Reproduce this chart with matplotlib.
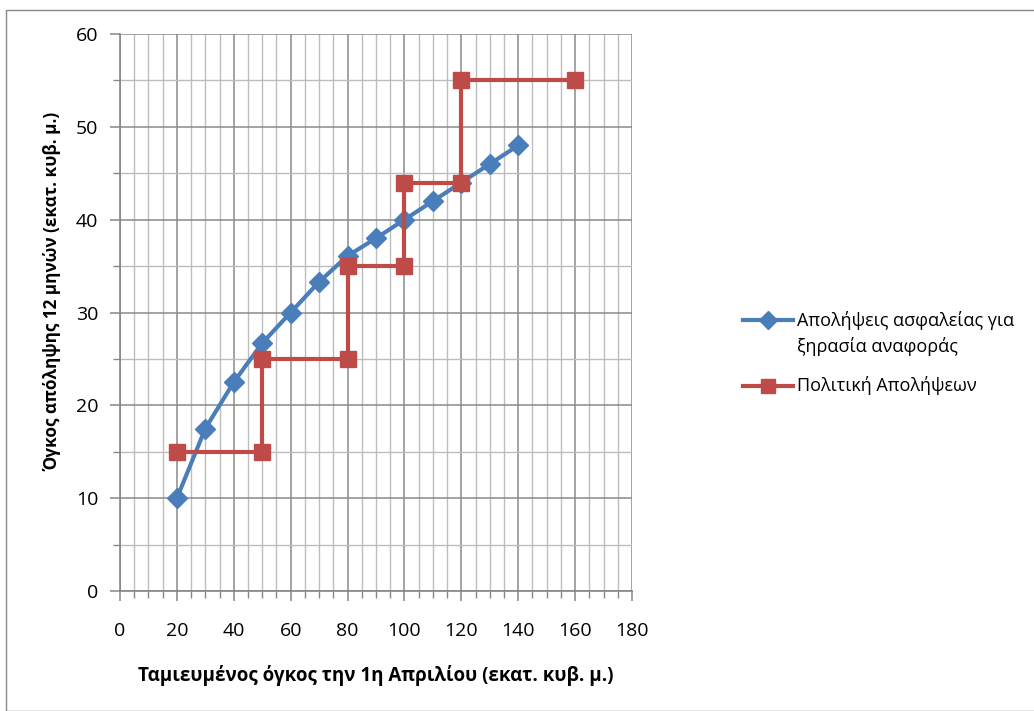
import matplotlib
matplotlib.use("Agg")
import matplotlib.pyplot as plt
from matplotlib.ticker import MultipleLocator
from matplotlib.patches import Rectangle
from matplotlib.lines import Line2D

# Data
x_safe = [20, 30, 40, 50, 60, 70, 80, 90, 100, 110, 120, 130, 140]
y_safe = [10, 17.5, 22.5, 26.7, 30, 33.3, 36.1, 38, 40, 42, 44, 46, 48]
x_policy = [20, 50, 50, 80, 80, 100, 100, 120, 120, 160]
y_policy = [15, 15, 25, 25, 35, 35, 44, 44, 55, 55]

label_safe = ["Απολήψεις ασφαλείας για", "ξηρασία αναφοράς"]
label_policy = "Πολιτική Απολήψεων"
xlabel = "Ταμιευμένος όγκος την 1η Απριλίου (εκατ. κυβ. μ.)"
ylabel = "Όγκος απόληψης 12 μηνών (εκατ. κυβ. μ.)"

BLUE = '#4a7ebb'
RED = '#be4b48'

plt.rcParams['font.family'] = ['Open Sans', 'DejaVu Sans']

W, H = 1034, 711
fig = plt.figure(figsize=(W / 100, H / 100), dpi=100)
fig.patches.append(Rectangle((6 / W, 0), 2, 1 - 10 / H, transform=fig.transFigure,
                             fill=False, edgecolor='#888888', linewidth=1.0))

ax = fig.add_axes([120 / W, 1 - 591 / H, (632 - 120) / W, (591 - 34) / H])
ax.set_xlim(0, 180)
ax.set_ylim(0, 60)
ax.xaxis.set_major_locator(MultipleLocator(20))
ax.xaxis.set_minor_locator(MultipleLocator(5))
ax.yaxis.set_major_locator(MultipleLocator(10))
ax.yaxis.set_minor_locator(MultipleLocator(5))

ax.grid(which='major', color='#8a8a8a', linewidth=1.1)
ax.grid(which='minor', color='#bdbdbd', linewidth=1.0)
ax.set_axisbelow(True)

for s in ['top', 'right']:
    ax.spines[s].set_visible(False)
for s in ['left', 'bottom']:
    ax.spines[s].set_color('#868686')
    ax.spines[s].set_linewidth(1.2)

ax.tick_params(which='major', direction='out', length=7, width=1.1, color='#868686',
               labelsize=14, labelcolor='black')
ax.tick_params(which='minor', direction='out', length=5, width=1.0, color='#868686')
ax.tick_params(axis='x', which='major', pad=15.5)
ax.tick_params(axis='y', which='major', pad=8.5)

ax.plot(x_safe, y_safe, color=BLUE, linewidth=3, marker='D', markersize=10,
        markerfacecolor=BLUE, markeredgecolor=BLUE, zorder=3)
ax.plot(x_policy, y_policy, color=RED, linewidth=3, marker='s', markersize=11.5,
        markerfacecolor=RED, markeredgecolor=RED, zorder=4)

ax.set_xlabel(xlabel, fontsize=13.5, fontweight='bold')
ax.xaxis.set_label_coords(0.5, (591 - 675) / 557)
ax.xaxis.label.set_va('center')
ax.set_ylabel(ylabel, fontsize=12.3, fontweight='bold')
ax.yaxis.set_label_coords((53 - 120) / 512, (591 - 291) / 557)
ax.yaxis.label.set_va('center')
ax.yaxis.label.set_ha('center')

# Legend (drawn in figure pixel coordinates)
def fx(p):
    return p / W

def fy(p):
    return 1 - p / H

fig.add_artist(Line2D([fx(743), fx(793)], [fy(320), fy(320)], color=BLUE, linewidth=3,
                      transform=fig.transFigure))
fig.add_artist(Line2D([fx(768)], [fy(320)], color=BLUE, marker='D', markersize=9,
                      linestyle='none', transform=fig.transFigure))
fig.add_artist(Line2D([fx(743), fx(793)], [fy(386), fy(386)], color=RED, linewidth=3,
                      transform=fig.transFigure))
fig.add_artist(Line2D([fx(768)], [fy(386)], color=RED, marker='s', markersize=10,
                      linestyle='none', transform=fig.transFigure))
fig.text(fx(797), fy(320), label_safe[0], fontsize=13, va='center', ha='left')
fig.text(fx(797), fy(347), label_safe[1], fontsize=13, va='center', ha='left')
fig.text(fx(797), fy(386), label_policy, fontsize=13, va='center', ha='left')

fig.savefig('out.png', dpi=100)
